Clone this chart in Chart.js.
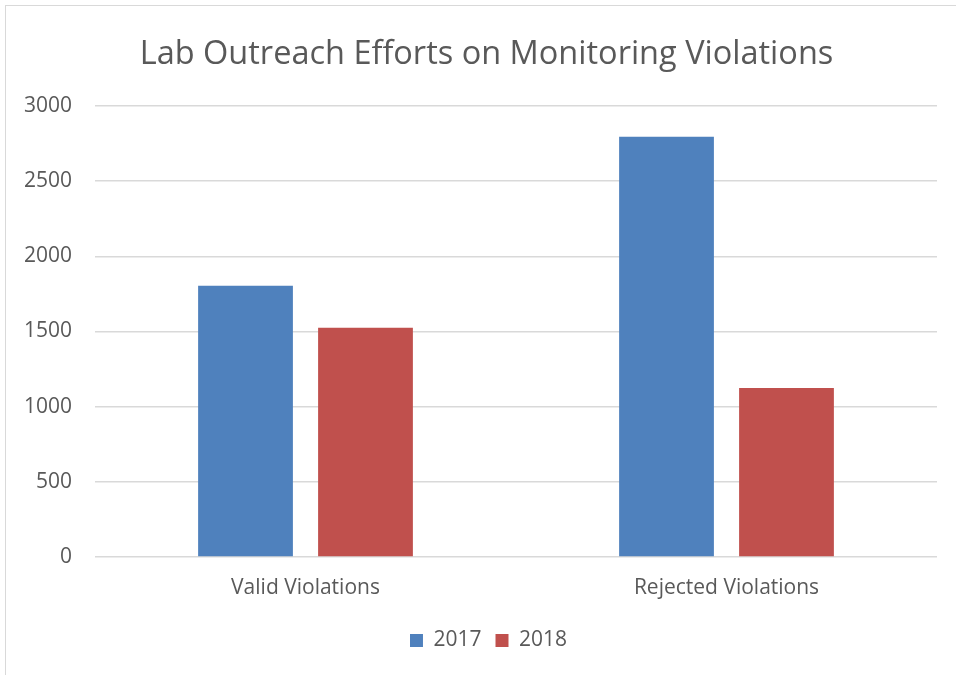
<!DOCTYPE html>
<html>
<head>
<meta charset="utf-8">
<script src="https://cdn.jsdelivr.net/npm/chart.js@4"></script>
<style>
html,body{margin:0;padding:0;background:#fff;}
#wrap{position:absolute;left:0;top:0;width:956px;height:675px;}
#frame{position:absolute;left:5px;top:5px;width:960px;height:680px;border:1px solid #d9d9d9;box-sizing:border-box;pointer-events:none;}
</style>
</head>
<body>
<div id="wrap"><canvas id="c" width="956" height="675"></canvas></div>
<div id="frame"></div>
<script>
const categories = ["Valid Violations", "Rejected Violations"];
const seriesNames = ["2017", "2018"];
const values2017 = [1805, 2795];
const values2018 = [1525, 1125];
const yTicks = [0, 500, 1000, 1500, 2000, 2500, 3000];

const FONT = "'Open Sans', 'Liberation Sans', sans-serif";
const TXT = '#595959';

const blockShift = {
  id: 'blockShift',
  afterLayout(chart) {
    const lg = chart.legend;
    if (lg) { lg.left += 17; lg.right += 17; }
    const tb = chart.titleBlock;
    if (tb) { tb.left += 15; tb.right += 15; }
  }
};

new Chart(document.getElementById('c'), {
  type: 'bar',
  data: {
    labels: categories,
    datasets: [
      { label: seriesNames[0], data: values2017, backgroundColor: '#4F81BD', categoryPercentage: 0.57, barPercentage: 0.79 },
      { label: seriesNames[1], data: values2018, backgroundColor: '#C0504D', categoryPercentage: 0.57, barPercentage: 0.79 }
    ]
  },
  plugins: [blockShift],
  options: {
    responsive: false,
    animation: false,
    layout: { padding: { left: 6, right: 19, top: 0, bottom: 14 } },
    plugins: {
      title: {
        display: true,
        text: 'Lab Outreach Efforts on Monitoring Violations',
        color: TXT,
        font: { family: FONT, size: 32.5, weight: 'normal' },
        padding: { top: 35, bottom: 32 }
      },
      legend: {
        display: true,
        position: 'bottom',
        labels: {
          color: TXT,
          font: { family: FONT, size: 21 },
          boxWidth: 13,
          boxHeight: 13,
          padding: 14
        }
      },
      tooltip: { enabled: false }
    },
    scales: {
      x: {
        grid: { display: false, drawTicks: false },
        border: { display: false },
        ticks: { color: TXT, font: { family: FONT, size: 21 }, padding: 18 },
        afterFit: s => { s.height = 59; }
      },
      y: {
        min: 0, max: 3000,
        afterBuildTicks: s => { s.ticks = yTicks.map(v => ({ value: v })); },
        grid: { color: '#d9d9d9', lineWidth: 1.5, drawTicks: false },
        border: { display: false },
        ticks: { color: TXT, font: { family: FONT, size: 21 }, padding: 23, callback: v => String(v) },
        afterFit: s => { s.width = 89; }
      }
    }
  }
});
</script>
</body>
</html>
